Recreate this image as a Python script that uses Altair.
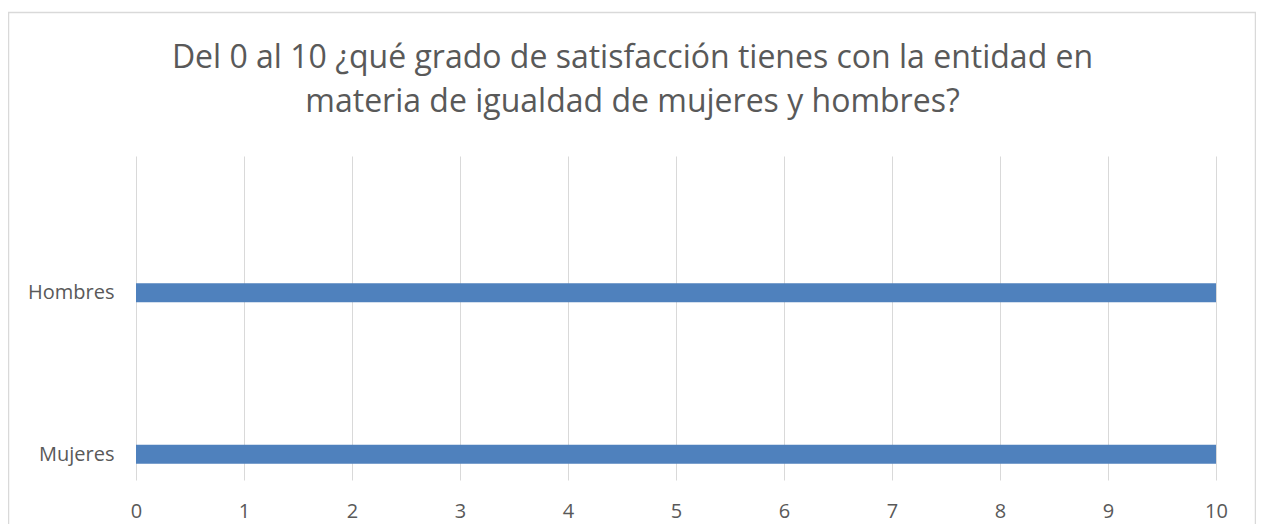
import json
import altair as alt
import pandas as pd

categories = ["Hombres", "Mujeres"]
values = [10, 10]
x_ticks = [0, 1, 2, 3, 4, 5, 6, 7, 8, 9, 10]
title_lines = [
    "Del 0 al 10 ¿qué grado de satisfacción tienes con la entidad en",
    "materia de igualdad de mujeres y hombres?",
]

df = pd.DataFrame({"cat": categories, "pos": list(range(len(categories))), "val": values})

FONT = "Open Sans"
GREY = "#595959"

label_expr = json.dumps(categories) + "[datum.value]"

bars = alt.Chart(df).mark_bar(size=19, color="#4F81BD", orient="horizontal").encode(
    x=alt.X(
        "val:Q",
        scale=alt.Scale(domain=[0, 10], nice=False),
        axis=alt.Axis(
            values=x_ticks,
            title=None,
            grid=True,
            gridColor="#D9D9D9",
            gridWidth=1,
            domain=False,
            ticks=False,
            labelFlush=False,
            labelPadding=21,
            labelFontSize=20,
            labelFont=FONT,
            labelColor=GREY,
        ),
    ),
    x2=alt.datum(0),
    y=alt.Y(
        "pos:Q",
        scale=alt.Scale(domain=[-0.817, 1.129], reverse=True, nice=False, zero=False),
        axis=alt.Axis(
            values=list(range(len(categories))),
            labelExpr=label_expr,
            title=None,
            domain=False,
            ticks=False,
            grid=False,
            labelPadding=22,
            labelFontSize=20,
            labelFont=FONT,
            labelColor=GREY,
        ),
    ),
)

title = alt.Chart(pd.DataFrame({"t": [0]})).mark_text(
    font=FONT,
    fontSize=32,
    color=GREY,
    align="center",
    baseline="alphabetic",
    lineHeight=44,
).encode(
    x=alt.value(496.5),
    y=alt.value(-88),
    text=alt.value(title_lines),
)

border = alt.Chart(pd.DataFrame({"t": [0]})).mark_rect(
    fillOpacity=0, stroke="#D9D9D9", strokeWidth=1.5
).encode(
    x=alt.value(-127.5),
    x2=alt.value(1119.5),
    y=alt.value(-143.5),
    y2=alt.value(420),
)

chart = alt.layer(border, bars, title).properties(
    width=1080,
    height=324,
    autosize=alt.AutoSizeParams(type="none"),
    padding={"left": 128, "top": 148, "right": 40, "bottom": 44},
    background="white",
).configure_view(stroke=None)

chart.save("out.html", embed_options={"renderer": "svg", "actions": False})
